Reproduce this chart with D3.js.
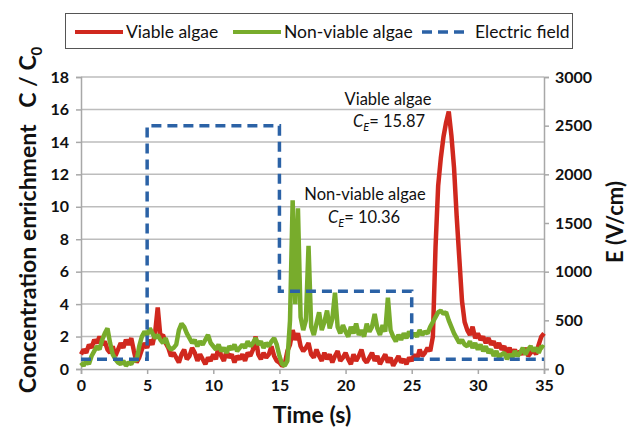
<!DOCTYPE html>
<html>
<head>
<meta charset="utf-8">
<script src="https://cdn.jsdelivr.net/npm/d3@7"></script>
<style>
  body { margin: 0; background: #fff; }
  text { font-family: Lato, 'Open Sans', sans-serif; fill: #111; }
</style>
</head>
<body>
<div class="visHolder"></div>
<script>
// samples every 0.2 s, 0 .. 35 s
const dt = 0.2;
const viable = [
  0.9, 1.2, 1.0, 1.5, 1.3, 1.8, 1.6, 2.0, 1.5, 1.7,
  1.2, 1.0, 1.4, 0.8, 1.2, 1.6, 1.3, 1.8, 1.5, 1.9,
  1.1, 0.4, 0.7, 1.2, 1.6, 1.3, 1.8, 1.5, 2.2, 3.8,
  2.0, 2.1, 1.6, 1.3, 0.8, 1.0, 0.7, 0.4, 0.9, 1.2,
  0.6, 0.8, 1.3, 1.0, 0.5, 0.9, 0.6, 0.3, 0.7, 0.5,
  0.9, 0.6, 1.4, 0.8, 0.5, 1.1, 0.7, 0.9, 0.4, 0.8,
  0.6, 0.9, 0.5, 1.0, 0.8, 1.2, 2.0, 0.9, 0.6, 1.0,
  0.7, 0.9, 1.4, 0.8, 0.5, 0.4, 0.2, 0.3, 1.1, 1.5,
  2.4, 1.8, 2.2, 1.4, 1.1, 1.3, 1.6, 0.9, 0.7, 1.2,
  0.8, 0.5, 1.0, 0.6, 0.9, 0.4, 0.8, 1.1, 0.5, 0.7,
  1.0, 0.6, 0.3, 0.9, 0.5, 0.8, 1.2, 0.6, 0.4, 0.7,
  1.0, 0.5, 0.8, 0.3, 0.6, 0.9, 0.4, 0.7, 0.2, 0.5,
  0.8, 0.4, 0.6, 0.3, 0.7, 0.5, 0.9, 0.6, 1.2, 0.8,
  1.0, 1.3, 1.1, 2.0, 7.5, 11.3, 13.0, 14.3, 15.2, 15.87,
  14.4, 12.4, 9.4, 6.8, 4.2, 2.9, 2.4, 2.1, 2.6, 1.9,
  2.2, 1.8, 2.0, 1.6, 1.9, 1.5, 1.7, 1.3, 1.6, 1.2,
  1.4, 1.0, 1.3, 0.9, 1.2, 0.8, 1.1, 0.9, 1.3, 0.8,
  1.0, 1.2, 0.9, 1.5, 2.0, 2.2
];
const nonViable = [
  0.4, 0.2, 0.5, 0.3, 0.8, 1.1, 1.4, 1.2, 1.8, 2.2,
  2.5, 1.6, 0.9, 0.6, 0.4, 0.3, 0.5, 0.2, 0.4, 0.3,
  0.6, 0.5, 1.4, 2.0, 2.3, 2.1, 2.5, 2.2, 1.9, 2.1,
  1.8, 1.6, 1.9, 1.4, 1.2, 1.3, 1.5, 2.4, 2.8, 2.6,
  2.2, 1.9, 1.6, 1.8, 1.4, 1.7, 1.5, 1.8, 2.1, 1.6,
  1.4, 1.2, 1.5, 1.1, 1.3, 1.0, 1.4, 1.2, 1.5, 1.1,
  1.3, 1.5, 1.3, 1.7, 1.4, 1.6, 1.9, 1.5, 1.7, 1.3,
  1.6, 1.4, 1.7, 1.9, 1.5, 0.8, 0.3, 0.2, 0.5, 3.0,
  10.4, 4.0, 9.9, 3.2, 2.4, 3.0, 7.6, 2.6, 2.1, 2.8,
  3.5, 2.4, 2.9, 3.6, 2.5, 3.1, 4.7, 2.6, 2.2, 2.7,
  2.3, 2.0, 2.6, 2.2, 2.8, 2.1, 2.4, 2.0, 2.8, 2.3,
  2.6, 3.4, 2.5, 2.1, 2.7, 2.3, 4.4, 2.4, 2.0, 1.7,
  2.1, 1.8, 2.2, 1.9, 2.3, 2.0, 2.2, 2.0, 2.4, 2.1,
  2.3, 2.2, 2.6, 2.9, 3.2, 3.5, 3.6, 3.4, 3.5, 3.0,
  2.6, 2.2, 1.9, 1.6, 1.8, 1.5, 1.4, 1.7, 1.3, 1.6,
  1.2, 1.5, 1.1, 1.4, 1.0, 1.2, 0.8, 1.1, 0.7, 0.9,
  1.0, 0.6, 0.9, 0.7, 1.1, 0.8, 1.0, 1.3, 0.9, 1.2,
  1.4, 1.1, 1.3, 1.0, 1.4, 1.3
];
const fieldTime = [0, 5, 5, 15, 15, 25, 25, 35];
const fieldValue = [100, 100, 2500, 2500, 800, 800, 100, 100];

const timeTicks = [0, 5, 10, 15, 20, 25, 30, 35];
const leftTicks = [0, 2, 4, 6, 8, 10, 12, 14, 16, 18];
const rightTicks = [0, 500, 1000, 1500, 2000, 2500, 3000];
const legendNames = ['Viable algae', 'Non-viable algae', 'Electric field'];

const w = 630;
const h = 433;
const plotLeft = 81, plotRight = 544, plotTop = 77, plotBottom = 369;

const red = '#d0281e';
const green = '#78ac2c';
const blue = '#2b62a6';

var svg = d3.select('.visHolder')
  .append('svg')
  .attr('width', w)
  .attr('height', h);

const xScale = d3.scaleLinear().domain([0, 35]).range([plotLeft, plotRight]);
const yScale = d3.scaleLinear().domain([0, 18]).range([plotBottom, plotTop]);
const eScale = d3.scaleLinear().domain([0, 3000]).range([plotBottom, plotTop]);

// grid
svg.append('g')
  .selectAll('line')
  .data(leftTicks.slice(1))
  .enter()
  .append('line')
  .attr('x1', plotLeft)
  .attr('x2', plotRight)
  .attr('y1', d => yScale(d))
  .attr('y2', d => yScale(d))
  .attr('stroke', '#bdbdbd')
  .attr('stroke-width', 1.5);

const xAxis = d3.axisBottom(xScale).tickValues(timeTicks).tickSize(5).tickPadding(6);
const yAxis = d3.axisLeft(yScale).tickValues(leftTicks).tickSize(5).tickPadding(7);
const eAxis = d3.axisRight(eScale).tickValues(rightTicks).tickFormat(d3.format('d')).tickSize(5).tickPadding(6);

function styleAxis(g) {
  g.select('.domain').attr('stroke', '#a8a8a8').attr('stroke-width', 1.5);
  g.selectAll('.tick line').attr('stroke', '#a8a8a8').attr('stroke-width', 1.5);
  g.selectAll('.tick text')
    .attr('font-family', 'Lato, sans-serif')
    .attr('font-weight', 'bold')
    .attr('font-size', 16)
    .attr('fill', '#111');
}

svg.append('g')
  .attr('transform', 'translate(0,' + plotBottom + ')')
  .call(xAxis)
  .call(styleAxis);

svg.append('g')
  .attr('transform', 'translate(' + plotLeft + ',0)')
  .call(yAxis)
  .call(styleAxis);

svg.append('g')
  .attr('transform', 'translate(' + plotRight + ',0)')
  .call(eAxis)
  .call(styleAxis);

// series
const line = d3.line()
  .x((d, i) => xScale(i * dt))
  .y(d => yScale(d));

svg.append('path')
  .datum(viable)
  .attr('d', line)
  .attr('fill', 'none')
  .attr('stroke', red)
  .attr('stroke-width', 4.5)
  .attr('stroke-linejoin', 'bevel');

svg.append('path')
  .datum(nonViable)
  .attr('d', line)
  .attr('fill', 'none')
  .attr('stroke', green)
  .attr('stroke-width', 4.5)
  .attr('stroke-linejoin', 'bevel');

const fieldLine = d3.line()
  .x((d, i) => xScale(fieldTime[i]))
  .y(d => eScale(d));

svg.append('path')
  .datum(fieldValue)
  .attr('d', fieldLine)
  .attr('fill', 'none')
  .attr('stroke', blue)
  .attr('stroke-width', 3.5)
  .attr('stroke-dasharray', '10,6');

// annotations
function ceLabel(x, y, value) {
  var t = svg.append('text')
    .attr('x', x)
    .attr('y', y)
    .attr('text-anchor', 'middle')
    .attr('font-size', 16.5);
  t.append('tspan').attr('font-style', 'italic').text('C');
  t.append('tspan').attr('font-style', 'italic').attr('font-size', 11).attr('dy', 4).text('E');
  t.append('tspan').attr('dy', -4).text('= ' + value);
}

svg.append('text')
  .attr('x', 388)
  .attr('y', 105)
  .attr('text-anchor', 'middle')
  .attr('font-size', 16.5)
  .text('Viable algae');
ceLabel(389, 127, '15.87');

svg.append('text')
  .attr('x', 365)
  .attr('y', 200)
  .attr('text-anchor', 'middle')
  .attr('font-size', 16.5)
  .text('Non-viable algae');
ceLabel(364, 223, '10.36');

// axis titles
svg.append('text')
  .attr('x', 312)
  .attr('y', 423)
  .attr('text-anchor', 'middle')
  .attr('font-weight', 'bold')
  .attr('font-size', 23)
  .text('Time (s)');

var yTitle = svg.append('text')
  .attr('transform', 'translate(36,220) rotate(-90)')
  .attr('text-anchor', 'middle')
  .attr('font-weight', 'bold')
  .attr('font-size', 23);
yTitle.append('tspan').text('Concentration enrichment\u00a0\u00a0\u00a0C / C');
yTitle.append('tspan').attr('font-size', 15).attr('dy', 6).text('0');

svg.append('text')
  .attr('transform', 'translate(623,222) rotate(-90)')
  .attr('text-anchor', 'middle')
  .attr('font-weight', 'bold')
  .attr('font-size', 22)
  .text('E (V/cm)');

// legend
svg.append('rect')
  .attr('x', 65.5)
  .attr('y', 13.5)
  .attr('width', 507)
  .attr('height', 35)
  .attr('fill', '#fff')
  .attr('stroke', '#555')
  .attr('stroke-width', 1);

const legendX = [75, 233, 422];
const legendColor = [red, green, blue];

legendNames.forEach(function (name, i) {
  svg.append('line')
    .attr('x1', legendX[i])
    .attr('x2', legendX[i] + 48)
    .attr('y1', 32)
    .attr('y2', 32)
    .attr('stroke', legendColor[i])
    .attr('stroke-width', i === 2 ? 3.5 : 4)
    .attr('stroke-dasharray', i === 2 ? '10,6' : null);
  svg.append('text')
    .attr('x', legendX[i] + (i === 2 ? 53 : 51))
    .attr('y', 38)
    .attr('font-size', 17.5)
    .text(name);
});
</script>
</body>
</html>
